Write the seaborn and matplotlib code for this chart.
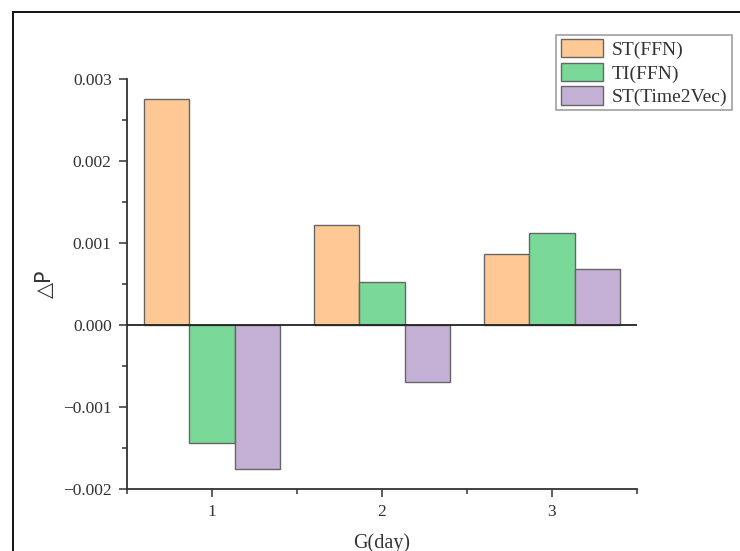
import matplotlib
matplotlib.use("Agg")
import matplotlib.pyplot as plt
import matplotlib.patches as mpatches
from matplotlib.ticker import FixedLocator, FuncFormatter
import seaborn as sns
import pandas as pd

# ---- data ----
categories = ["1", "2", "3"]
series_names = ["ST(FFN)", "TI(FFN)", "ST(Time2Vec)"]
st_ffn = [0.00276, 0.00122, 0.00087]
ti_ffn = [-0.00144, 0.00052, 0.00112]
st_t2v = [-0.00175, -0.00070, 0.00068]
y_ticks = [-0.002, -0.001, 0.000, 0.001, 0.002, 0.003]
x_label = "G(day)"
y_label = "△P"

colors = ["#FFC894", "#7AD898", "#C5B0D5"]

rows = []
for name, vals in zip(series_names, [st_ffn, ti_ffn, st_t2v]):
    for c, v in zip(categories, vals):
        rows.append({"G": c, "dP": v, "series": name})
df = pd.DataFrame(rows)

sns.set_theme(style="white")
plt.rcParams["font.family"] = ["Liberation Serif", "DejaVu Serif"]
plt.rcParams["axes.unicode_minus"] = True

W, H = 740, 551
fig = plt.figure(figsize=(W / 100, H / 100), dpi=100)
ax = fig.add_axes([127 / W, (H - 489) / H, 510 / W, 410 / H])

sns.barplot(data=df, x="G", y="dP", hue="series", hue_order=series_names,
            order=categories, palette=colors, width=0.8, saturation=1,
            edgecolor="#666666", linewidth=1.0, ax=ax)

ax.set_xlim(-0.5, 2.5)
ax.set_ylim(-0.002, 0.003)
ax.axhline(0, color="#222222", lw=1.3, zorder=5)

for s in ["top", "right"]:
    ax.spines[s].set_visible(False)
for s in ["left", "bottom"]:
    ax.spines[s].set_color("#333333")
    ax.spines[s].set_linewidth(1.3)

ax.yaxis.set_major_locator(FixedLocator(y_ticks))
ax.yaxis.set_minor_locator(FixedLocator([-0.0015, -0.0005, 0.0005, 0.0015, 0.0025]))
ax.yaxis.set_major_formatter(FuncFormatter(lambda v, p: f"{v:.3f}".replace("-", "\u2212")))
ax.xaxis.set_minor_locator(FixedLocator([-0.5, 0.5, 1.5, 2.5]))

ax.tick_params(axis="both", which="major", direction="out", length=6, width=1.1,
               color="#333333", labelsize=12.5, labelcolor="#333333", pad=5,
               left=True, bottom=True)
ax.tick_params(axis="both", which="minor", direction="out", length=3.5, width=1.1,
               color="#333333", left=True, bottom=True)

ax.set_xlabel(x_label, fontsize=14.5, color="#333333", labelpad=9)
ax.set_ylabel(y_label, fontsize=15, color="#333333", labelpad=6,
              family=["DejaVu Sans"])

leg = ax.legend(loc="upper right", bbox_to_anchor=(732 / W, 1 - 35 / H),
                bbox_transform=fig.transFigure, borderaxespad=0,
                fontsize=14, frameon=True, fancybox=False, shadow=False,
                handlelength=2.2, handleheight=1.05, handletextpad=0.45,
                labelspacing=0.2, borderpad=0.22)
leg.get_frame().set_edgecolor("#888888")
leg.get_frame().set_linewidth(1.2)
for t in leg.get_texts():
    t.set_color("#333333")

# outer frame
fig.patches.append(mpatches.Rectangle((13 / W, -0.05), 1.1, 1 - 12 / H + 0.05,
                                      transform=fig.transFigure, fill=False,
                                      edgecolor="#111111", lw=1.4, clip_on=False))

fig.savefig("out.png", dpi=100)
